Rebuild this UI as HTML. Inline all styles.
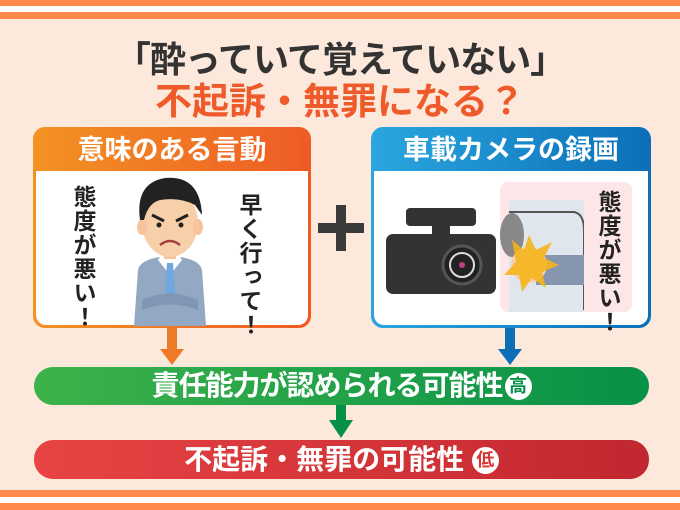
<!DOCTYPE html>
<html><head><meta charset="utf-8"><style>
*{margin:0;padding:0;box-sizing:border-box}
body{width:680px;height:510px;background:#fde8dc;position:relative;overflow:hidden;font-family:"Liberation Sans","Noto Sans CJK JP",sans-serif;font-weight:bold}
.a{position:absolute}
.vt{position:absolute;writing-mode:vertical-rl;font-size:23px;color:#222;line-height:1;letter-spacing:1px}
</style></head><body>
<div class="a" style="left:0;top:0;width:680px;height:6px;background:#ff8a4c"></div>
<div class="a" style="left:0;top:6px;width:680px;height:6px;background:#fff"></div>
<div class="a" style="left:0;top:12px;width:680px;height:7px;background:#ff8a4c"></div>
<div class="a" style="left:0;top:490px;width:680px;height:7px;background:#ff8a4c"></div>
<div class="a" style="left:0;top:497px;width:680px;height:6px;background:#fff"></div>
<div class="a" style="left:0;top:503px;width:680px;height:7px;background:#ff8a4c"></div>

<div class="a" style="left:0;top:38px;width:680px;text-align:center;font-size:36px;color:#333;line-height:44px;letter-spacing:-1px">「酔っていて覚えていない」</div>
<div class="a" style="left:0;top:80px;width:680px;text-align:center;font-size:37px;color:#ef5a2a;line-height:44px">不起訴・無罪になる？</div>

<!-- left box -->
<div class="a" style="left:33px;top:127px;width:278px;height:201px;border-radius:12px;background:linear-gradient(90deg,#f39323,#ee5b25);"></div>
<div class="a" style="left:36px;top:171px;width:272px;height:154px;background:#fff;border-radius:0 0 10px 10px"></div>
<div class="a" style="left:33px;top:129px;width:278px;text-align:center;color:#fff;font-size:27px;line-height:42px">意味のある言動</div>
<div class="vt" style="left:71px;top:185px">態度が悪い！</div>
<div class="vt" style="left:237px;top:193px">早く行って！</div>
<svg class="a" style="left:120px;top:175px" width="100" height="151">
<path d="M18 95 Q20 85 40 82 L60 82 Q80 85 82 95 L86 151 L14 151Z" fill="#93a8c2"/>
<path d="M38 85 L50 100 L62 85 L60 82 L40 82Z" fill="#fff"/>
<path d="M47 88 L53 88 L55 118 L50 124 L45 118Z" fill="#6fa8e0"/>
<rect x="44" y="70" width="12" height="14" fill="#f5c49c"/>
<ellipse cx="50" cy="48" rx="28" ry="34" fill="#f7cfa8"/>
<ellipse cx="22" cy="52" rx="5" ry="8" fill="#f5c49c"/><ellipse cx="78" cy="52" rx="5" ry="8" fill="#f5c49c"/>
<path d="M20 45 Q15 8 45 3 Q80 0 82 40 L75 30 Q60 22 40 25 Q28 28 24 45Z" fill="#222"/>
<path d="M32 40 L44 46 M68 40 L56 46" stroke="#222" stroke-width="3"/>
<circle cx="39" cy="50" r="2.5" fill="#222"/><circle cx="61" cy="50" r="2.5" fill="#222"/>
<path d="M40 70 Q50 62 60 70" stroke="#a04040" stroke-width="2.5" fill="none"/>
<path d="M22 125 Q50 112 78 125 L78 135 Q50 124 22 135Z" fill="#8096b4"/>
</svg>

<!-- plus -->
<div class="a" style="left:318px;top:223px;width:46px;height:10px;background:#3b3b3b"></div>
<div class="a" style="left:336px;top:205px;width:10px;height:46px;background:#3b3b3b"></div>

<!-- right box -->
<div class="a" style="left:371px;top:127px;width:280px;height:201px;border-radius:12px;background:linear-gradient(90deg,#2aa6df,#0b6fb8);"></div>
<div class="a" style="left:374px;top:171px;width:274px;height:154px;background:#fff;border-radius:0 0 10px 10px"></div>
<div class="a" style="left:371px;top:129px;width:280px;text-align:center;color:#fff;font-size:27px;line-height:42px">車載カメラの録画</div>
<div class="a" style="left:500px;top:182px;width:132px;height:130px;background:#fde6e8;border-radius:8px"></div>
<svg class="a" style="left:384px;top:200px" width="200" height="115">
<rect x="125" y="0" width="80" height="112" fill="#dfe6ee"/>
<path d="M125 12 L190 12 Q200 14 200 30 L200 110" stroke="#555" stroke-width="2" fill="none"/>
<ellipse cx="128" cy="35" rx="12" ry="22" fill="#888"/>
<rect x="152" y="55" width="50" height="30" fill="#8596ae"/>
<circle cx="145" cy="65" r="18" fill="#f7cfa8"/>
<path d="M128 40 L140 50 L145 35 L152 50 L168 42 L160 58 L175 65 L158 72 L162 88 L148 78 L138 92 L135 75 L120 75 L132 62Z" fill="#f4b51c" opacity=".9"/>
<rect x="22" y="8" width="70" height="18" rx="4" fill="#333"/>
<rect x="48" y="24" width="18" height="12" fill="#333"/>
<rect x="2" y="34" width="110" height="60" rx="7" fill="#333"/>
<circle cx="78" cy="65" r="19" fill="#222" stroke="#555" stroke-width="3"/>
<circle cx="78" cy="65" r="12" fill="none" stroke="#ddd" stroke-width="2"/>
<circle cx="78" cy="65" r="3" fill="#c04080"/>
</svg>
<div class="vt" style="left:596px;top:190px">態度が悪い！</div>

<!-- arrows -->
<div class="a" style="left:167px;top:328px;width:10px;height:22px;background:#ef7a26"></div>
<div class="a" style="left:160px;top:349px;width:0;height:0;border-left:12px solid transparent;border-right:12px solid transparent;border-top:16px solid #ef7a26"></div>
<div class="a" style="left:505px;top:328px;width:10px;height:22px;background:#0b6fb8"></div>
<div class="a" style="left:498px;top:349px;width:0;height:0;border-left:12px solid transparent;border-right:12px solid transparent;border-top:16px solid #0b6fb8"></div>

<div class="a" style="left:34px;top:367px;width:615px;height:38px;border-radius:19px;background:linear-gradient(90deg,#3db24a,#079148)"></div>
<div class="a" style="left:34px;top:366px;width:615px;text-align:center;color:#fff;font-size:28px;line-height:40px;letter-spacing:-1px">責任能力が認められる可能性<span style="display:inline-block;width:27px;height:27px;border-radius:50%;background:#fff;color:#079148;font-size:18px;line-height:27px;vertical-align:3px;letter-spacing:0;margin-left:2px">高</span></div>

<div class="a" style="left:336px;top:405px;width:10px;height:16px;background:#079148"></div>
<div class="a" style="left:329px;top:420px;width:0;height:0;border-left:12px solid transparent;border-right:12px solid transparent;border-top:18px solid #079148"></div>

<div class="a" style="left:34px;top:440px;width:615px;height:39px;border-radius:19px;background:linear-gradient(90deg,#e84444,#c1272f)"></div>
<div class="a" style="left:34px;top:439px;width:615px;text-align:center;color:#fff;font-size:28px;line-height:41px">不起訴・無罪の可能性 <span style="display:inline-block;width:27px;height:27px;border-radius:50%;background:#fff;color:#d33;font-size:18px;line-height:27px;vertical-align:3px">低</span></div>
</body></html>
